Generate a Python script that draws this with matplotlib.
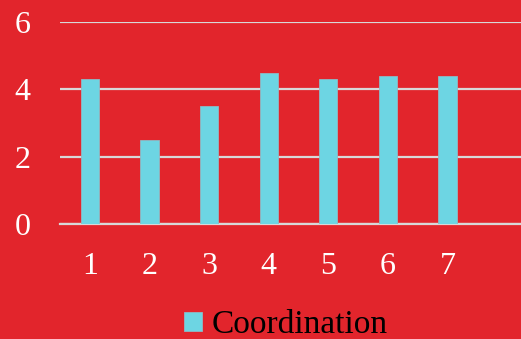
import matplotlib
matplotlib.use("Agg")
import matplotlib.pyplot as plt

# Bar values for each session
categories = ["1", "2", "3", "4", "5", "6", "7", ""]
coordination = [4.3, 2.5, 3.5, 4.5, 4.3, 4.4, 4.4, 0]
y_ticks = [0, 2, 4, 6]

BG = "#e2252c"
BAR = "#6dd5e3"
GRID = "#d8d8d8"

plt.rcParams["font.family"] = ["Liberation Serif", "DejaVu Serif"]

fig = plt.figure(figsize=(5.21, 3.39), dpi=100, facecolor=BG)
# axes run past the right edge of the canvas
ax = fig.add_axes([60 / 521, 115 / 339, 477 / 521, 202 / 339], facecolor=BG)

x = list(range(len(categories)))
ax.bar(x[:7], coordination[:7], width=0.307, color=BAR, edgecolor="#8fb9c4",
       linewidth=0.6, label="Coordination", zorder=3)

ax.set_xlim(-0.5, len(categories) - 0.5)
ax.set_ylim(0, 6)
ax.set_yticks(y_ticks)
ax.set_xticks(x)
ax.set_xticklabels(categories)
ax.yaxis.grid(True, color=GRID, linewidth=1.6, zorder=1)
ax.set_axisbelow(True)

for s in ["top", "right", "left"]:
    ax.spines[s].set_visible(False)
ax.spines["bottom"].set_color(GRID)
ax.spines["bottom"].set_linewidth(1.6)

ax.tick_params(axis="both", length=0, colors="white", labelsize=23)
ax.tick_params(axis="y", pad=21)
ax.tick_params(axis="x", pad=20)

fig.legend(loc="center", bbox_to_anchor=(286 / 521, 14 / 339), frameon=False,
           fontsize=24, handlelength=0.53, handleheight=0.53, handletextpad=0.28,
           labelcolor="black")

fig.savefig("out.png", dpi=100, facecolor=BG)
